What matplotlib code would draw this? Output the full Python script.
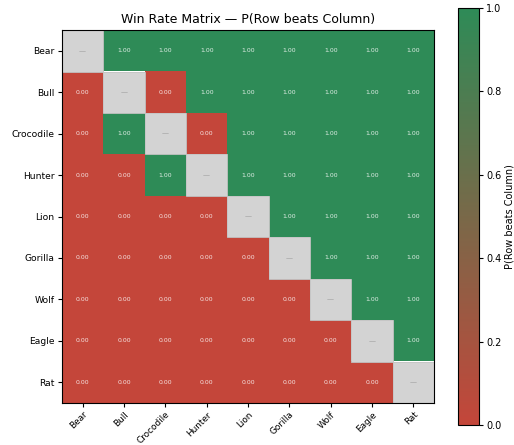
import numpy as np
import matplotlib.pyplot as plt
from matplotlib.colors import LinearSegmentedColormap
from matplotlib.patches import Rectangle

names = ['Bear', 'Bull', 'Crocodile', 'Hunter', 'Lion', 'Gorilla', 'Wolf', 'Eagle', 'Rat']

# P(row beats column), diagonal left empty
win = np.array([
    [np.nan, 1, 1, 1, 1, 1, 1, 1, 1],
    [0, np.nan, 0, 1, 1, 1, 1, 1, 1],
    [0, 1, np.nan, 0, 1, 1, 1, 1, 1],
    [0, 0, 1, np.nan, 1, 1, 1, 1, 1],
    [0, 0, 0, 0, np.nan, 1, 1, 1, 1],
    [0, 0, 0, 0, 0, np.nan, 1, 1, 1],
    [0, 0, 0, 0, 0, 0, np.nan, 1, 1],
    [0, 0, 0, 0, 0, 0, 0, np.nan, 1],
    [0, 0, 0, 0, 0, 0, 0, 0, np.nan],
])

cmap = LinearSegmentedColormap.from_list('rg', ['#c4463a', '#2e8b57'])

fig = plt.figure(figsize=(5.14, 4.45), dpi=100)
ax = fig.add_axes([0.1206, 0.0944, 0.7237, 0.838])
cax = fig.add_axes([0.891, 0.045, 0.041, 0.937])

im = ax.imshow(np.ma.masked_invalid(win), cmap=cmap, vmin=0, vmax=1, aspect='auto')

n = len(names)
for i in range(n):
    for j in range(n):
        if i == j:
            ax.add_patch(Rectangle((j - 0.5, i - 0.5), 1, 1, facecolor='#d3d3d3',
                                   edgecolor='#c0c0c0', lw=0.6))
            ax.text(j, i, '—', ha='center', va='center', fontsize=5, color='#999999')
        else:
            ax.text(j, i, f'{win[i, j]:.2f}', ha='center', va='center',
                    fontsize=4.4, color='white', alpha=0.85)

ax.set_xticks(range(n))
ax.set_yticks(range(n))
ax.set_xticklabels(names, rotation=45, ha='right', rotation_mode='anchor', fontsize=6.4)
ax.set_yticklabels(names, fontsize=6.6)
ax.tick_params(length=3, width=0.8, pad=2.5)
ax.tick_params(axis='x', pad=2)
ax.set_xlim(-0.5, n - 0.5)
ax.set_ylim(n - 0.5, -0.5)
ax.set_title('Win Rate Matrix — P(Row beats Column)', fontsize=9, pad=5)

cb = fig.colorbar(im, cax=cax)
cb.set_label('P(Row beats Column)', fontsize=7, labelpad=2)
cb.ax.tick_params(labelsize=7, length=3, pad=2)

fig.savefig('out.png', dpi=100)
